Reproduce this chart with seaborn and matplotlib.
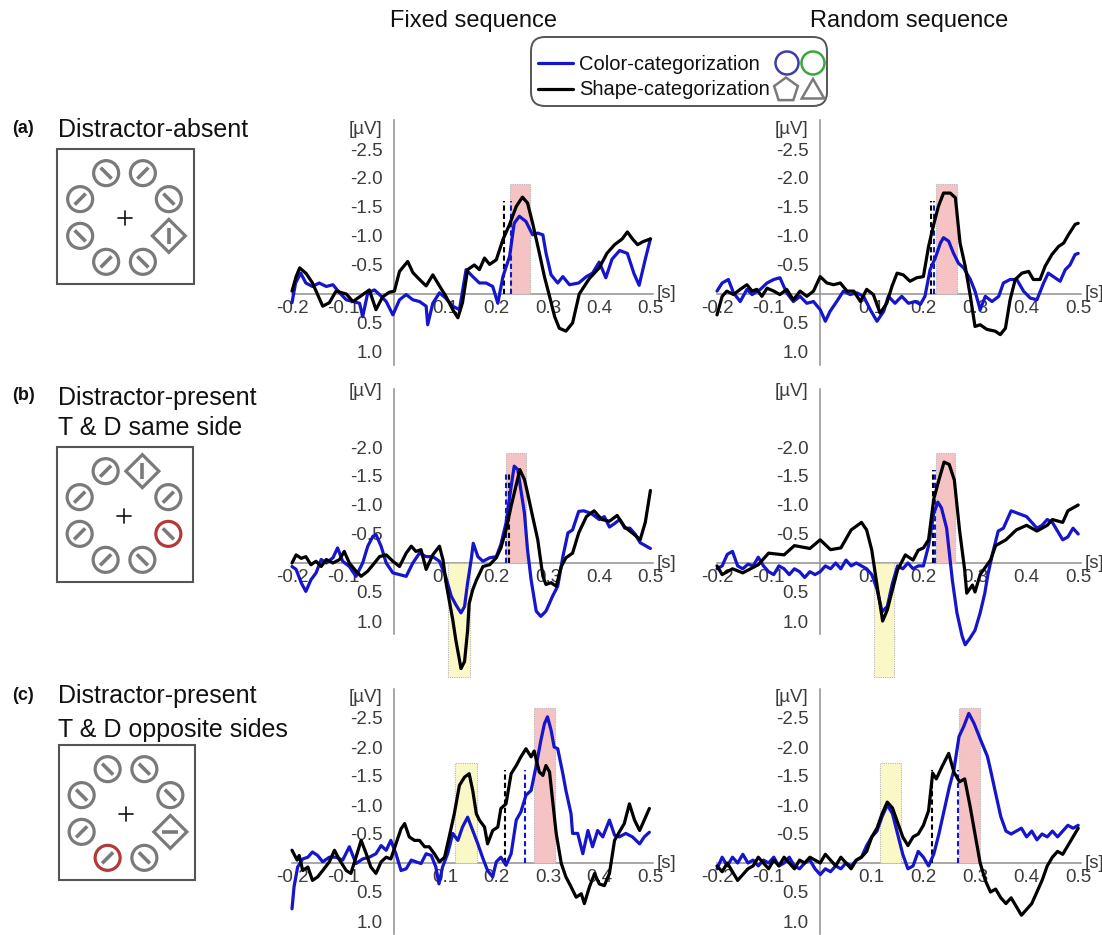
import numpy as np
import matplotlib
matplotlib.use("Agg")
import matplotlib.pyplot as plt
from matplotlib import patches
import seaborn as sns

# ---------------------------------------------------------------- data
# Time (s) and amplitude (uV) samples for every trace.
# F = fixed sequence, R = random sequence; A/B/C = display condition.
FA_COLOR_T = [-0.2, -0.193, -0.183, -0.173, -0.16, -0.147, -0.133, -0.12, -0.107, -0.094, -0.081, -0.068, -0.062, -0.052, -0.039, -0.029, -0.016, -0.003, 0.01, 0.023, 0.036, 0.049, 0.062, 0.065, 0.075, 0.088, 0.1, 0.114, 0.127, 0.14, 0.153, 0.166, 0.179, 0.192, 0.202, 0.212, 0.225, 0.234, 0.244, 0.257, 0.27, 0.28, 0.29, 0.296, 0.306, 0.319, 0.329, 0.342, 0.36, 0.375, 0.387, 0.4, 0.413, 0.425, 0.44, 0.455, 0.468, 0.478, 0.49, 0.5]
FA_COLOR_V = [0.15, -0.19, -0.36, -0.19, -0.13, -0.19, -0.13, -0.16, -0.02, 0.1, 0.13, 0.16, 0.39, -0.02, -0.07, 0.01, 0.13, 0.36, 0.1, 0.01, 0.1, 0.13, 0.21, 0.53, 0.16, -0.02, 0.07, 0.21, 0.27, -0.42, -0.3, -0.19, -0.19, -0.13, 0.16, -0.3, -0.65, -1.22, -1.34, -1.25, -1.02, -1.05, -1.02, -0.71, -0.33, -0.19, -0.3, -0.16, -0.19, -0.3, -0.36, -0.55, -0.28, -0.6, -0.75, -0.7, -0.35, -0.15, -0.6, -0.95]
FA_SHAPE_T = [-0.2, -0.192, -0.185, -0.172, -0.16, -0.14, -0.127, -0.114, -0.094, -0.081, -0.065, -0.049, -0.036, -0.023, -0.01, 0.0, 0.01, 0.026, 0.036, 0.049, 0.062, 0.075, 0.088, 0.1, 0.114, 0.124, 0.133, 0.143, 0.156, 0.166, 0.176, 0.186, 0.199, 0.212, 0.225, 0.238, 0.25, 0.26, 0.27, 0.283, 0.293, 0.303, 0.313, 0.322, 0.335, 0.348, 0.361, 0.381, 0.4, 0.415, 0.43, 0.445, 0.455, 0.465, 0.475, 0.485, 0.5]
FA_SHAPE_V = [-0.05, -0.3, -0.45, -0.35, -0.19, 0.21, 0.15, -0.05, 0.0, 0.13, 0.03, -0.07, 0.27, 0.05, -0.03, -0.05, -0.39, -0.56, -0.37, -0.25, -0.14, -0.33, -0.14, 0.03, 0.27, 0.41, 0.15, -0.42, -0.5, -0.42, -0.62, -0.51, -0.59, -0.94, -1.2, -1.51, -1.67, -1.57, -1.22, -0.71, -0.3, 0.04, 0.39, 0.59, 0.64, 0.5, 0.0, -0.27, -0.45, -0.7, -0.85, -0.95, -1.07, -0.95, -0.85, -0.9, -0.95]

RA_COLOR_T = [-0.2, -0.19, -0.178, -0.168, -0.155, -0.142, -0.132, -0.116, -0.103, -0.09, -0.078, -0.065, -0.052, -0.039, -0.026, -0.013, 0.0, 0.01, 0.019, 0.032, 0.045, 0.058, 0.071, 0.084, 0.097, 0.11, 0.123, 0.132, 0.145, 0.158, 0.171, 0.184, 0.194, 0.203, 0.213, 0.223, 0.233, 0.239, 0.249, 0.258, 0.268, 0.278, 0.291, 0.3, 0.31, 0.32, 0.333, 0.346, 0.355, 0.368, 0.381, 0.394, 0.407, 0.42, 0.433, 0.442, 0.455, 0.465, 0.475, 0.484, 0.494, 0.5]
RA_COLOR_V = [-0.05, -0.19, -0.25, -0.02, 0.13, -0.08, 0.01, -0.08, -0.19, -0.25, -0.28, -0.02, 0.13, 0.04, 0.16, 0.13, 0.27, 0.47, 0.3, 0.13, -0.05, 0.01, -0.02, 0.04, 0.27, 0.47, 0.3, 0.04, 0.16, 0.04, 0.16, 0.13, 0.18, 0.04, -0.42, -0.62, -0.88, -0.97, -0.91, -0.71, -0.53, -0.45, -0.25, -0.05, 0.27, 0.04, 0.13, 0.04, -0.19, -0.25, -0.25, -0.05, 0.07, 0.1, -0.19, -0.36, -0.28, -0.22, -0.42, -0.5, -0.68, -0.7]
RA_SHAPE_T = [-0.2, -0.19, -0.181, -0.168, -0.155, -0.142, -0.132, -0.123, -0.113, -0.103, -0.09, -0.078, -0.065, -0.052, -0.039, -0.026, -0.013, 0.0, 0.013, 0.026, 0.039, 0.052, 0.065, 0.078, 0.09, 0.103, 0.116, 0.129, 0.139, 0.149, 0.161, 0.174, 0.187, 0.2, 0.21, 0.22, 0.229, 0.239, 0.252, 0.262, 0.271, 0.281, 0.291, 0.3, 0.31, 0.323, 0.339, 0.349, 0.359, 0.368, 0.378, 0.391, 0.404, 0.413, 0.426, 0.436, 0.449, 0.462, 0.472, 0.481, 0.494, 0.5]
RA_SHAPE_V = [0.36, 0.04, -0.05, 0.01, -0.08, -0.16, -0.05, -0.08, 0.04, -0.1, -0.05, 0.01, -0.08, 0.1, -0.05, 0.04, -0.05, -0.3, -0.19, -0.16, -0.19, -0.05, -0.05, 0.13, -0.08, 0.01, 0.33, 0.16, -0.13, -0.36, -0.33, -0.22, -0.28, -0.3, -0.82, -1.2, -1.51, -1.74, -1.74, -1.66, -0.88, -0.48, 0.04, 0.56, 0.53, 0.61, 0.64, 0.7, 0.59, 0.1, -0.25, -0.36, -0.39, -0.25, -0.25, -0.48, -0.68, -0.82, -0.88, -1.02, -1.2, -1.22]

FB_COLOR_T = [-0.2, -0.192, -0.182, -0.173, -0.163, -0.153, -0.143, -0.133, -0.12, -0.111, -0.101, -0.088, -0.075, -0.062, -0.052, -0.042, -0.036, -0.026, -0.016, -0.003, 0.01, 0.023, 0.036, 0.049, 0.062, 0.075, 0.088, 0.1, 0.111, 0.12, 0.13, 0.137, 0.143, 0.15, 0.154, 0.163, 0.173, 0.186, 0.199, 0.208, 0.218, 0.228, 0.234, 0.241, 0.247, 0.254, 0.26, 0.267, 0.277, 0.286, 0.296, 0.309, 0.319, 0.329, 0.339, 0.348, 0.36, 0.37, 0.385, 0.4, 0.41, 0.42, 0.43, 0.44, 0.45, 0.46, 0.47, 0.48, 0.49, 0.5]
FB_COLOR_V = [0.06, 0.11, 0.34, 0.49, 0.29, 0.17, -0.06, 0.0, -0.09, -0.26, -0.03, 0.06, 0.23, 0.0, -0.29, -0.46, -0.49, -0.29, 0.0, 0.17, 0.2, 0.23, 0.0, -0.17, -0.11, -0.11, -0.03, 0.23, 0.57, 0.72, 0.86, 0.75, 0.34, -0.06, -0.34, -0.11, -0.03, -0.09, -0.11, -0.32, -0.69, -1.32, -1.67, -1.61, -1.26, -0.86, -0.23, 0.29, 0.83, 0.92, 0.83, 0.57, 0.4, -0.11, -0.52, -0.57, -0.89, -0.9, -0.85, -0.75, -0.8, -0.62, -0.68, -0.75, -0.6, -0.6, -0.5, -0.35, -0.3, -0.25]
FB_SHAPE_T = [-0.2, -0.192, -0.182, -0.173, -0.163, -0.153, -0.143, -0.133, -0.12, -0.107, -0.098, -0.088, -0.075, -0.065, -0.052, -0.039, -0.029, -0.016, -0.003, 0.01, 0.023, 0.033, 0.042, 0.052, 0.062, 0.075, 0.088, 0.095, 0.101, 0.107, 0.114, 0.12, 0.127, 0.13, 0.137, 0.143, 0.146, 0.153, 0.16, 0.173, 0.186, 0.199, 0.208, 0.218, 0.228, 0.238, 0.245, 0.254, 0.26, 0.27, 0.28, 0.29, 0.296, 0.306, 0.316, 0.326, 0.335, 0.348, 0.36, 0.375, 0.39, 0.405, 0.42, 0.435, 0.45, 0.46, 0.47, 0.48, 0.49, 0.5]
FB_SHAPE_V = [0.0, -0.14, -0.08, -0.11, 0.03, -0.03, 0.06, -0.06, 0.0, -0.06, -0.2, 0.0, 0.14, 0.23, 0.14, 0.0, -0.11, -0.14, -0.03, 0.06, -0.17, -0.29, -0.2, -0.23, 0.11, -0.14, -0.29, -0.05, 0.35, 0.64, 0.98, 1.33, 1.67, 1.82, 1.7, 1.16, 0.7, 0.46, 0.3, 0.06, 0.03, -0.09, -0.26, -0.57, -0.98, -1.35, -1.61, -1.44, -1.21, -0.8, -0.4, 0.23, 0.37, 0.34, 0.4, 0.06, -0.09, -0.17, -0.52, -0.8, -0.9, -0.75, -0.72, -0.82, -0.62, -0.55, -0.48, -0.4, -0.7, -1.25]

RB_COLOR_T = [-0.2, -0.19, -0.18, -0.17, -0.16, -0.15, -0.14, -0.13, -0.12, -0.11, -0.1, -0.09, -0.08, -0.07, -0.06, -0.05, -0.04, -0.03, -0.02, -0.01, 0.0, 0.01, 0.02, 0.03, 0.04, 0.05, 0.06, 0.07, 0.08, 0.09, 0.1, 0.11, 0.12, 0.13, 0.14, 0.15, 0.16, 0.17, 0.18, 0.19, 0.2, 0.21, 0.22, 0.228, 0.235, 0.245, 0.256, 0.265, 0.275, 0.281, 0.29, 0.3, 0.31, 0.319, 0.325, 0.335, 0.345, 0.355, 0.37, 0.385, 0.4, 0.41, 0.42, 0.43, 0.44, 0.45, 0.46, 0.47, 0.48, 0.49, 0.5]
RB_COLOR_V = [0.1, 0.05, -0.15, -0.2, 0.05, 0.1, 0.02, 0.05, -0.1, 0.05, 0.15, 0.2, 0.05, 0.1, 0.2, 0.1, 0.15, 0.25, 0.15, 0.2, 0.15, 0.05, 0.1, 0.0, 0.1, -0.05, 0.05, 0.0, 0.05, 0.1, 0.2, 0.45, 0.84, 0.75, 0.35, 0.05, 0.1, 0.0, 0.1, 0.05, 0.05, -0.3, -0.85, -1.05, -0.95, -0.6, 0.29, 0.86, 1.26, 1.41, 1.3, 1.16, 0.86, 0.52, 0.2, -0.2, -0.55, -0.6, -0.9, -0.85, -0.8, -0.7, -0.6, -0.65, -0.75, -0.7, -0.55, -0.4, -0.45, -0.6, -0.5]
RB_SHAPE_T = [-0.2, -0.19, -0.17, -0.15, -0.12, -0.1, -0.07, -0.05, -0.02, 0.0, 0.02, 0.04, 0.06, 0.08, 0.09, 0.1, 0.11, 0.121, 0.13, 0.14, 0.15, 0.165, 0.18, 0.19, 0.2, 0.21, 0.22, 0.23, 0.24, 0.25, 0.26, 0.27, 0.28, 0.284, 0.295, 0.3, 0.31, 0.33, 0.34, 0.36, 0.38, 0.4, 0.42, 0.44, 0.45, 0.47, 0.48, 0.5]
RB_SHAPE_V = [0.05, 0.2, 0.1, 0.17, 0.03, -0.17, -0.14, -0.3, -0.25, -0.4, -0.23, -0.26, -0.57, -0.7, -0.57, -0.22, 0.38, 1.0, 0.81, 0.46, 0.12, -0.14, -0.05, -0.22, -0.26, -0.4, -1.1, -1.43, -1.74, -1.7, -1.43, -0.57, 0.12, 0.52, 0.38, 0.5, 0.2, -0.05, -0.3, -0.4, -0.57, -0.65, -0.55, -0.65, -0.75, -0.7, -0.9, -1.0]

FC_COLOR_T = [-0.2, -0.196, -0.189, -0.179, -0.169, -0.16, -0.15, -0.14, -0.127, -0.114, -0.101, -0.088, -0.075, -0.062, -0.049, -0.036, -0.026, -0.016, -0.007, 0.003, 0.013, 0.023, 0.033, 0.042, 0.052, 0.062, 0.072, 0.081, 0.087, 0.094, 0.104, 0.114, 0.124, 0.133, 0.143, 0.153, 0.163, 0.172, 0.182, 0.192, 0.199, 0.208, 0.218, 0.228, 0.238, 0.247, 0.257, 0.267, 0.277, 0.286, 0.293, 0.299, 0.306, 0.312, 0.319, 0.329, 0.335, 0.345, 0.348, 0.358, 0.368, 0.378, 0.387, 0.397, 0.407, 0.42, 0.43, 0.439, 0.452, 0.465, 0.479, 0.488, 0.498]
FC_COLOR_V = [0.79, 0.41, 0.07, -0.07, -0.1, -0.19, -0.13, -0.02, -0.1, -0.1, -0.05, -0.28, 0.01, -0.07, -0.1, -0.16, -0.3, -0.22, -0.39, -0.16, 0.13, 0.1, -0.05, -0.02, 0.01, -0.16, -0.13, 0.07, 0.36, 0.07, -0.16, -0.51, -0.39, -0.62, -0.79, -0.56, -0.33, -0.1, 0.13, 0.24, -0.02, -0.1, 0.04, -0.16, -0.74, -0.88, -1.17, -1.25, -1.68, -2.11, -2.4, -2.52, -2.29, -2.0, -1.97, -1.54, -1.25, -0.85, -0.51, -0.51, -0.16, -0.56, -0.28, -0.56, -0.45, -0.74, -0.48, -0.45, -0.51, -0.45, -0.33, -0.45, -0.53]
FC_SHAPE_T = [-0.2, -0.19, -0.186, -0.179, -0.169, -0.16, -0.15, -0.14, -0.127, -0.117, -0.107, -0.094, -0.085, -0.075, -0.065, -0.055, -0.046, -0.036, -0.026, -0.016, -0.007, 0.003, 0.013, 0.02, 0.029, 0.039, 0.049, 0.059, 0.068, 0.078, 0.088, 0.098, 0.107, 0.117, 0.127, 0.137, 0.146, 0.153, 0.16, 0.166, 0.176, 0.182, 0.192, 0.202, 0.208, 0.218, 0.228, 0.238, 0.247, 0.257, 0.267, 0.273, 0.283, 0.29, 0.296, 0.303, 0.309, 0.316, 0.326, 0.335, 0.345, 0.355, 0.365, 0.371, 0.381, 0.391, 0.4, 0.41, 0.42, 0.43, 0.439, 0.449, 0.459, 0.469, 0.479, 0.488, 0.498]
FC_SHAPE_V = [-0.22, -0.05, -0.13, 0.13, 0.07, 0.3, 0.24, 0.13, -0.02, -0.22, -0.05, 0.13, 0.18, -0.1, -0.39, -0.16, 0.07, 0.18, -0.02, -0.1, -0.07, -0.33, -0.59, -0.68, -0.45, -0.39, -0.39, -0.28, -0.28, -0.16, -0.02, -0.1, -0.45, -0.85, -1.34, -1.48, -1.54, -1.25, -0.85, -0.74, -0.62, -0.33, -0.56, -0.62, -0.94, -1.02, -1.54, -1.68, -1.83, -1.97, -1.83, -1.93, -1.57, -1.51, -1.68, -1.57, -1.08, -0.51, 0.01, 0.24, 0.41, 0.59, 0.53, 0.7, 0.41, 0.18, 0.36, 0.39, 0.18, -0.39, -0.53, -0.68, -1.02, -0.74, -0.56, -0.74, -0.94]

RC_COLOR_T = [-0.2, -0.19, -0.18, -0.17, -0.16, -0.15, -0.14, -0.13, -0.12, -0.11, -0.1, -0.09, -0.08, -0.07, -0.06, -0.05, -0.04, -0.03, -0.02, -0.01, 0.0, 0.01, 0.02, 0.03, 0.04, 0.05, 0.06, 0.07, 0.08, 0.09, 0.1, 0.11, 0.12, 0.13, 0.14, 0.15, 0.16, 0.17, 0.18, 0.19, 0.2, 0.21, 0.22, 0.23, 0.24, 0.25, 0.259, 0.269, 0.278, 0.288, 0.298, 0.311, 0.324, 0.33, 0.34, 0.35, 0.36, 0.37, 0.38, 0.39, 0.4, 0.41, 0.42, 0.43, 0.44, 0.45, 0.46, 0.47, 0.48, 0.49, 0.5]
RC_COLOR_V = [0.1, -0.1, 0.05, -0.1, 0.0, -0.15, 0.0, -0.05, 0.05, -0.05, 0.0, -0.1, 0.05, 0.0, -0.1, 0.05, 0.1, 0.0, -0.05, 0.1, 0.2, 0.1, 0.15, 0.05, 0.1, 0.0, 0.05, -0.05, -0.1, -0.3, -0.45, -0.55, -0.8, -1.0, -0.85, -0.5, -0.15, 0.1, 0.05, -0.2, -0.1, 0.05, -0.15, -0.5, -0.9, -1.3, -1.6, -2.18, -2.35, -2.58, -2.41, -2.12, -1.84, -1.61, -1.2, -0.8, -0.55, -0.5, -0.55, -0.6, -0.45, -0.55, -0.4, -0.5, -0.45, -0.55, -0.45, -0.55, -0.65, -0.6, -0.65]
RC_SHAPE_T = [-0.2, -0.19, -0.18, -0.17, -0.16, -0.15, -0.14, -0.13, -0.12, -0.11, -0.1, -0.09, -0.08, -0.07, -0.06, -0.05, -0.04, -0.03, -0.02, -0.01, 0.0, 0.01, 0.02, 0.03, 0.04, 0.05, 0.06, 0.07, 0.08, 0.09, 0.1, 0.11, 0.12, 0.13, 0.14, 0.15, 0.16, 0.17, 0.18, 0.19, 0.2, 0.21, 0.218, 0.225, 0.236, 0.249, 0.259, 0.27, 0.28, 0.29, 0.3, 0.31, 0.32, 0.33, 0.34, 0.35, 0.36, 0.37, 0.38, 0.39, 0.4, 0.41, 0.42, 0.43, 0.44, 0.45, 0.46, 0.47, 0.48, 0.49, 0.5]
RC_SHAPE_V = [0.05, 0.15, 0.0, 0.15, 0.3, 0.2, 0.1, 0.05, -0.1, 0.0, 0.1, -0.05, 0.05, -0.1, 0.0, 0.1, -0.05, 0.0, -0.1, -0.05, 0.0, -0.15, -0.05, 0.05, -0.1, 0.0, 0.1, -0.05, -0.1, -0.2, -0.45, -0.6, -0.85, -1.05, -0.95, -0.7, -0.45, -0.3, -0.45, -0.5, -0.65, -0.9, -1.55, -1.45, -1.66, -1.89, -1.57, -1.4, -1.45, -1.0, -0.5, 0.0, 0.3, 0.5, 0.45, 0.6, 0.7, 0.6, 0.75, 0.9, 0.8, 0.7, 0.5, 0.3, 0.05, -0.1, -0.2, -0.15, -0.3, -0.45, -0.6]

# Analysis windows: (start s, end s, extent uV)
FA_N2PC_WIN = (0.225, 0.265, -1.9)
RA_N2PC_WIN = (0.225, 0.265, -1.9)
FB_N2PC_WIN = (0.218, 0.257, -1.9)
RB_N2PC_WIN = (0.225, 0.262, -1.9)
FB_PD_WIN = (0.105, 0.148, 1.97)
RB_PD_WIN = (0.105, 0.143, 1.97)
FC_N2PC_WIN = (0.273, 0.314, -2.67)
RC_N2PC_WIN = (0.269, 0.310, -2.67)
FC_EARLY_WIN = (0.119, 0.161, -1.73)
RC_EARLY_WIN = (0.116, 0.156, -1.73)

# Latency markers: (shape onset, color onset, marker height uV)
FA_ONSETS = (0.2135, 0.228, -1.6)
RA_ONSETS = (0.215, 0.221, -1.6)
FB_ONSETS = (0.223, 0.217, -1.57)
RB_ONSETS = (0.218, 0.222, -1.6)
FC_ONSETS = (0.2155, 0.255, -1.6)
RC_ONSETS = (0.217, 0.267, -1.6)

XTICKS = [-0.2, -0.1, 0.1, 0.2, 0.3, 0.4, 0.5]
YTICKS_FULL = [-2.5, -2.0, -1.5, -1.0, -0.5, 0.5, 1.0]
YTICKS_SHORT = [-2.0, -1.5, -1.0, -0.5, 0.5, 1.0]

COL_TITLES = ["Fixed sequence", "Random sequence"]
LEGEND_LABELS = ["Color-categorization", "Shape-categorization"]

# ---------------------------------------------------------------- style
sns.set_theme(style="white")
plt.rcParams["font.family"] = ["Liberation Sans", "DejaVu Sans"]

BLUE = "#1515cc"
BLACK = "#000000"
PINK = "#f5c3c3"
YELLOW = "#fbf8c8"
AXIS_GRAY = "#8f8f8f"
LABEL_GRAY = "#3c3c3c"
STIM_GRAY = "#7a7a7a"
STIM_RED = "#b23a3a"

W, H = 1102, 935
fig = plt.figure(figsize=(W / 100, H / 100), dpi=100)
fig.patch.set_facecolor("white")

PX_PER_UV = 58.0
Y_TOP, Y_BOT = -3.0, 1.22
X_LO, X_HI = -0.2, 0.505


def make_axes(x_left, x_scale, y_zero):
    x_right = x_left + (X_HI - X_LO) * x_scale
    top = y_zero + Y_TOP * PX_PER_UV
    bot = y_zero + Y_BOT * PX_PER_UV
    return fig.add_axes([x_left / W, 1 - bot / H, (x_right - x_left) / W, (bot - top) / H])


def draw_panel(ax, ct, cv, st, sv, windows, onsets, yticks, unit_y):
    ax.set_xlim(X_LO, X_HI)
    ax.set_ylim(Y_BOT, Y_TOP)
    ax.set_facecolor("none")
    for start, end, ext, fc in windows:
        ax.add_patch(patches.Rectangle((start, 0), end - start, ext, facecolor=fc,
                                       edgecolor="#b5b5b5", linestyle=(0, (1, 1)),
                                       linewidth=0.8, clip_on=False, zorder=1))
    t_shape, t_color, h = onsets
    ax.plot([t_shape, t_shape], [0, h], color=BLACK, lw=1.5, ls=(0, (2.5, 1.5)),
            zorder=2, clip_on=False)
    ax.plot([t_color, t_color], [0, h], color=BLUE, lw=1.5, ls=(0, (2.5, 1.5)),
            zorder=2, clip_on=False)
    sns.lineplot(x=ct, y=cv, ax=ax, color=BLUE, linewidth=2.3, estimator=None,
                 sort=False, clip_on=False, zorder=3)
    sns.lineplot(x=st, y=sv, ax=ax, color=BLACK, linewidth=2.3, estimator=None,
                 sort=False, clip_on=False, zorder=4)
    for side in ("top", "right"):
        ax.spines[side].set_visible(False)
    ax.spines["left"].set_position(("data", 0))
    ax.spines["bottom"].set_position(("data", 0))
    for side in ("left", "bottom"):
        ax.spines[side].set_color(AXIS_GRAY)
        ax.spines[side].set_linewidth(1.1)
        ax.spines[side].set_zorder(0.5)
    ax.set_xticks(XTICKS)
    ax.set_xticklabels([f"{v:.1f}" for v in XTICKS])
    ax.set_yticks(yticks)
    ax.set_yticklabels([f"{v:.1f}" for v in yticks])
    ax.tick_params(axis="both", direction="in", length=4, width=1, color=AXIS_GRAY,
                   labelcolor=LABEL_GRAY, labelsize=13.5)
    ax.tick_params(axis="x", pad=4.5)
    ax.tick_params(axis="y", pad=8.5)
    ax.set_xlabel("")
    ax.set_ylabel("")
    ax.grid(False)
    ax.text(-0.023, unit_y, "[\u00b5V]", ha="right", va="center", fontsize=13.5,
            color=LABEL_GRAY)
    ax.text(0.512, 0.0, "[s]", ha="left", va="center", fontsize=13.5, color=LABEL_GRAY)


LEFT_X0, LEFT_SCALE = 292, 512
RIGHT_X0, RIGHT_SCALE = 717, 516
ROWS = [
    (294, (FA_COLOR_T, FA_COLOR_V, FA_SHAPE_T, FA_SHAPE_V, [FA_N2PC_WIN + (PINK,)], FA_ONSETS),
          (RA_COLOR_T, RA_COLOR_V, RA_SHAPE_T, RA_SHAPE_V, [RA_N2PC_WIN + (PINK,)], RA_ONSETS),
     YTICKS_FULL, -2.83),
    (563, (FB_COLOR_T, FB_COLOR_V, FB_SHAPE_T, FB_SHAPE_V,
           [FB_N2PC_WIN + (PINK,), FB_PD_WIN + (YELLOW,)], FB_ONSETS),
          (RB_COLOR_T, RB_COLOR_V, RB_SHAPE_T, RB_SHAPE_V,
           [RB_N2PC_WIN + (PINK,), RB_PD_WIN + (YELLOW,)], RB_ONSETS),
     YTICKS_SHORT, -2.95),
    (863, (FC_COLOR_T, FC_COLOR_V, FC_SHAPE_T, FC_SHAPE_V,
           [FC_N2PC_WIN + (PINK,), FC_EARLY_WIN + (YELLOW,)], FC_ONSETS),
          (RC_COLOR_T, RC_COLOR_V, RC_SHAPE_T, RC_SHAPE_V,
           [RC_N2PC_WIN + (PINK,), RC_EARLY_WIN + (YELLOW,)], RC_ONSETS),
     YTICKS_FULL, -2.86),
]

for y_zero, left, right, yticks, unit_y in ROWS:
    ax_l = make_axes(LEFT_X0, LEFT_SCALE, y_zero)
    draw_panel(ax_l, *left, yticks, unit_y)
    ax_r = make_axes(RIGHT_X0, RIGHT_SCALE, y_zero)
    draw_panel(ax_r, *right, yticks, unit_y)

# ---------------------------------------------------------------- overlay (pixel coordinates)
ov = fig.add_axes([0, 0, 1, 1], zorder=10)
ov.set_xlim(0, W)
ov.set_ylim(H, 0)
ov.axis("off")
ov.patch.set_alpha(0)

ov.text(474, 27, COL_TITLES[0], ha="center", va="baseline", fontsize=17, color="#111111")
ov.text(909, 27, COL_TITLES[1], ha="center", va="baseline", fontsize=17, color="#111111")

# legend box
ov.add_patch(patches.FancyBboxPatch((531, 37), 296, 69,
                                    boxstyle="round,pad=0,rounding_size=14",
                                    facecolor="white", edgecolor="#555555", linewidth=1.4))
ov.plot([538, 573], [63, 63], color=BLUE, lw=2.3)
ov.plot([538, 573], [89, 89], color=BLACK, lw=2.3)
ov.text(579, 70, LEGEND_LABELS[0], ha="left", va="baseline", fontsize=14.5, color="#111111")
ov.text(579, 95, LEGEND_LABELS[1], ha="left", va="baseline", fontsize=14.5, color="#111111")
ov.add_patch(patches.Circle((787, 63), 11.5, fill=False, edgecolor="#3d3daa", lw=1.8))
ov.add_patch(patches.Circle((813, 63), 11.5, fill=False, edgecolor="#3aa83a", lw=1.8))
ov.add_patch(patches.RegularPolygon((786, 90), 5, radius=12.5, orientation=np.pi,
                                    fill=False, edgecolor=STIM_GRAY, lw=1.8))
ov.add_patch(patches.RegularPolygon((813, 92), 3, radius=13, orientation=np.pi,
                                    fill=False, edgecolor=STIM_GRAY, lw=1.8))

# condition labels
ov.text(12, 133, "(a)", fontsize=13, fontweight="bold", va="baseline", color="#111111")
ov.text(58, 137, "Distractor-absent", fontsize=18, va="baseline", color="#111111")
ov.text(12, 400, "(b)", fontsize=13, fontweight="bold", va="baseline", color="#111111")
ov.text(58, 405, "Distractor-present", fontsize=18, va="baseline", color="#111111")
ov.text(58, 435, "T & D same side", fontsize=18, va="baseline", color="#111111")
ov.text(12, 700, "(c)", fontsize=13, fontweight="bold", va="baseline", color="#111111")
ov.text(58, 703, "Distractor-present", fontsize=18, va="baseline", color="#111111")
ov.text(58, 737, "T & D opposite sides", fontsize=18, va="baseline", color="#111111")

# search displays: (kind, bar orientation) clockwise from upper-left item
STIM_A = [("c", "\\"), ("c", "/"), ("c", "\\"), ("d", "|"),
          ("c", "\\"), ("c", "/"), ("c", "\\"), ("c", "/")]
STIM_B = [("c", "/"), ("d", "|"), ("c", "/"), ("r", "\\"),
          ("c", "\\"), ("c", "/"), ("c", "/"), ("c", "/")]
STIM_C = [("c", "\\"), ("c", "\\"), ("c", "\\"), ("d", "-"),
          ("c", "\\"), ("r", "/"), ("c", "/"), ("c", "\\")]


def draw_display(x0, y0, x1, y1, items):
    ov.add_patch(patches.Rectangle((x0, y0), x1 - x0, y1 - y0, fill=False,
                                   edgecolor="#555555", lw=1.5))
    cx, cy = (x0 + x1) / 2 - 1, (y0 + y1) / 2 + 1
    ov.plot([cx - 7, cx + 7], [cy, cy], color="#111111", lw=1.2)
    ov.plot([cx, cx], [cy - 7, cy + 7], color="#111111", lw=1.2)
    r = 48
    d = 5.5
    for k, (kind, bar) in enumerate(items):
        a = np.deg2rad(-112.5 + 45 * k)
        x, y = cx + r * np.cos(a), cy + r * np.sin(a)
        if kind == "d":
            ov.add_patch(patches.RegularPolygon((x, y), 4, radius=16.5, orientation=0,
                                                fill=False, edgecolor=STIM_GRAY, lw=2.3))
        else:
            col = STIM_RED if kind == "r" else STIM_GRAY
            ov.add_patch(patches.Circle((x, y), 12.5, fill=False, edgecolor=col, lw=2.3))
        if bar == "\\":
            xs, ys = [x - d, x + d], [y - d, y + d]
        elif bar == "/":
            xs, ys = [x - d, x + d], [y + d, y - d]
        elif bar == "|":
            xs, ys = [x, x], [y - 8, y + 8]
        else:
            xs, ys = [x - 8, x + 8], [y, y]
        ov.plot(xs, ys, color=STIM_GRAY, lw=2.6, solid_capstyle="butt")


draw_display(57, 149, 194, 284, STIM_A)
draw_display(57, 447, 193, 582, STIM_B)
draw_display(59, 745, 195, 880, STIM_C)

fig.savefig("out.png", dpi=100, facecolor="white")
